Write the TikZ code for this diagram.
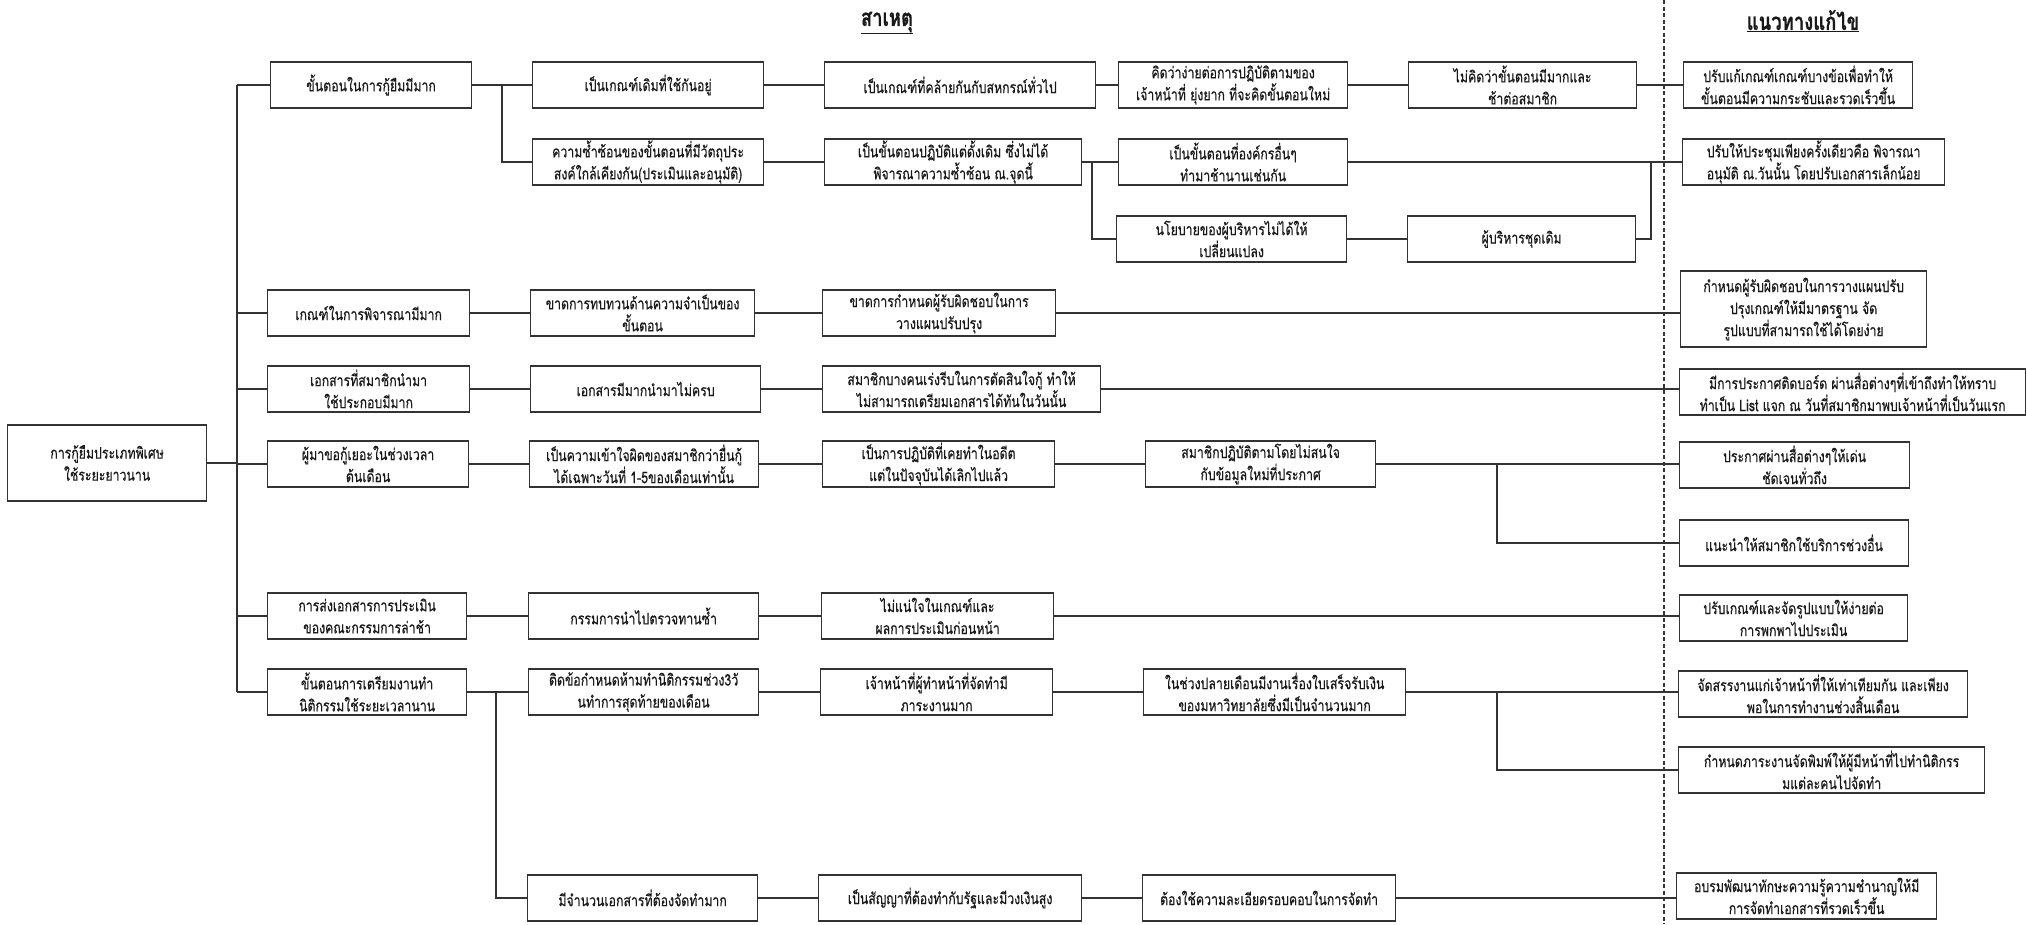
\documentclass[tikz,border=0pt]{standalone}
\usepackage{fontspec}
\setmainfont[Script=Thai, FakeStretch=0.77, FakeBold=0.4]{Loma}

\begin{document}
\begin{tikzpicture}[x=1pt, y=-1pt,
  every node/.style={font=\fontsize{16}{22}\selectfont, text=black!90},
  bx/.style={draw=black!80, line width=1.2pt, align=center, anchor=west, inner xsep=2pt, inner ysep=0pt, minimum height=46},
  tall/.style={minimum height=76},
  link/.style={draw=black!80, line width=1.2pt},
  hd/.style={font=\fontsize{24}{28}\selectfont\bfseries}]
\fill[white] (0,0) rectangle (2027,924);
\useasboundingbox (0,0) rectangle (2027,924);

% headings and the divider
\node[hd] (hcause) at (887,23) {\underline{สาเหตุ}};
\node[hd] (hfix) at (1803,21) {\underline{แนวทางแก้ไข}};
\draw[black!80, line width=1.5pt, dash pattern=on 4pt off 2.5pt] (1664,0) -- (1664,924);

% root
\node[bx, tall, minimum width=199] (root) at (7,463) {การกู้ยืมประเภทพิเศษ\\ใช้ระยะยาวนาน};

% first level
\node[bx, minimum width=201] (a1) at (270,85) {ขั้นตอนในการกู้ยืมมีมาก};
\node[bx, minimum width=202] (a4) at (267,313) {เกณฑ์ในการพิจารณามีมาก};
\node[bx, minimum width=202] (a5) at (267,389) {เอกสารที่สมาชิกนำมา\\ใช้ประกอบมีมาก};
\node[bx, minimum width=201] (a6) at (267,464) {ผู้มาขอกู้เยอะในช่วงเวลา\\ต้นเดือน};
\node[bx, minimum width=199] (a7) at (267,616) {การส่งเอกสารการประเมิน\\ของคณะกรรมการล่าช้า};
\node[bx, minimum width=199] (a8) at (267,692) {ขั้นตอนการเตรียมงานทำ\\นิติกรรมใช้ระยะเวลานาน};

% second level
\node[bx, minimum width=231] (b1) at (532,85) {เป็นเกณฑ์เดิมที่ใช้กันอยู่};
\node[bx, minimum width=231] (b2) at (532,162) {ความซ้ำซ้อนของขั้นตอนที่มีวัตถุประ\\สงค์ใกล้เคียงกัน(ประเมินและอนุมัติ)};
\node[bx, minimum width=224] (b4) at (530,313) {ขาดการทบทวนด้านความจำเป็นของ\\ขั้นตอน};
\node[bx, minimum width=230] (b5) at (530,389) {เอกสารมีมากนำมาไม่ครบ};
\node[bx, minimum width=229] (b6) at (529,464) {เป็นความเข้าใจผิดของสมาชิกว่ายื่นกู้\\ได้เฉพาะวันที่ 1-5ของเดือนเท่านั้น};
\node[bx, minimum width=230] (b7) at (528,616) {กรรมการนำไปตรวจทานซ้ำ};
\node[bx, minimum width=230] (b8) at (528,692) {ติดข้อกำหนดห้ามทำนิติกรรมช่วง3วั\\นทำการสุดท้ายของเดือน};
\node[bx, minimum width=230] (b9) at (527,898) {มีจำนวนเอกสารที่ต้องจัดทำมาก};

% third level
\node[bx, minimum width=271] (c1) at (824,85) {เป็นเกณฑ์ที่คล้ายกันกับสหกรณ์ทั่วไป};
\node[bx, minimum width=257] (c2) at (824,162) {เป็นขั้นตอนปฏิบัติแต่ดั้งเดิม ซึ่งไม่ได้\\พิจารณาความซ้ำซ้อน ณ.จุดนี้};
\node[bx, minimum width=233] (c4) at (822,313) {ขาดการกำหนดผู้รับผิดชอบในการ\\วางแผนปรับปรุง};
\node[bx, minimum width=278] (c5) at (822,389) {สมาชิกบางคนเร่งรีบในการตัดสินใจกู้ ทำให้\\ไม่สามารถเตรียมเอกสารได้ทันในวันนั้น};
\node[bx, minimum width=232] (c6) at (822,464) {เป็นการปฏิบัติที่เคยทำในอดีต\\แต่ในปัจจุบันได้เลิกไปแล้ว};
\node[bx, minimum width=232] (c7) at (821,616) {ไม่แน่ใจในเกณฑ์และ\\ผลการประเมินก่อนหน้า};
\node[bx, minimum width=232] (c8) at (820,692) {เจ้าหน้าที่ผู้ทำหน้าที่จัดทำมี\\ภาระงานมาก};
\node[bx, minimum width=263] (c9) at (818,898) {เป็นสัญญาที่ต้องทำกับรัฐและมีวงเงินสูง};

% fourth level
\node[bx, minimum width=229] (d1) at (1118,85) {คิดว่าง่ายต่อการปฏิบัติตามของ\\เจ้าหน้าที่ ยุ่งยาก ที่จะคิดขั้นตอนใหม่};
\node[bx, minimum width=229] (d2) at (1118,162) {เป็นขั้นตอนที่องค์กรอื่นๆ\\ทำมาช้านานเช่นกัน};
\node[bx, minimum width=230] (d3) at (1116,239) {นโยบายของผู้บริหารไม่ได้ให้\\เปลี่ยนแปลง};
\node[bx, minimum width=230] (d6) at (1145,464) {สมาชิกปฏิบัติตามโดยไม่สนใจ\\กับข้อมูลใหม่ที่ประกาศ};
\node[bx, minimum width=262] (d8) at (1143,692) {ในช่วงปลายเดือนมีงานเรื่องใบเสร็จรับเงิน\\ของมหาวิทยาลัยซึ่งมีเป็นจำนวนมาก};
\node[bx, minimum width=253] (d9) at (1142,898) {ต้องใช้ความละเอียดรอบคอบในการจัดทำ};

% fifth level
\node[bx, minimum width=228] (e1) at (1408,85) {ไม่คิดว่าขั้นตอนมีมากและ\\ช้าต่อสมาชิก};
\node[bx, minimum width=228] (e3) at (1407,239) {ผู้บริหารชุดเดิม};

% solutions
\node[bx, minimum width=229] (s1) at (1683,85) {ปรับแก้เกณฑ์เกณฑ์บางข้อเพื่อทำให้\\ขั้นตอนมีความกระชับและรวดเร็วขึ้น};
\node[bx, minimum width=262] (s2) at (1682,162) {ปรับให้ประชุมเพียงครั้งเดียวคือ พิจารณา\\อนุมัติ ณ.วันนั้น โดยปรับเอกสารเล็กน้อย};
\node[bx, tall, minimum width=246] (s4) at (1680,309) {กำหนดผู้รับผิดชอบในการวางแผนปรับ\\ปรุงเกณฑ์ให้มีมาตรฐาน จัด\\รูปแบบที่สามารถใช้ได้โดยง่าย};
\node[bx, minimum width=346] (s5) at (1679,392) {มีการประกาศติดบอร์ด ผ่านสื่อต่างๆที่เข้าถึงทำให้ทราบ\\ทำเป็น List แจก ณ วันที่สมาชิกมาพบเจ้าหน้าที่เป็นวันแรก};
\node[bx, minimum width=230] (s6) at (1679,465) {ประกาศผ่านสื่อต่างๆให้เด่น\\ชัดเจนทั่วถึง};
\node[bx, minimum width=229] (s6b) at (1679,543) {แนะนำให้สมาชิกใช้บริการช่วงอื่น};
\node[bx, minimum width=228] (s7) at (1679,618) {ปรับเกณฑ์และจัดรูปแบบให้ง่ายต่อ\\การพกพาไปประเมิน};
\node[bx, minimum width=289] (s8) at (1678,694) {จัดสรรงานแก่เจ้าหน้าที่ให้เท่าเทียมกัน และเพียง\\พอในการทำงานช่วงสิ้นเดือน};
\node[bx, minimum width=306] (s8b) at (1678,770) {กำหนดภาระงานจัดพิมพ์ให้ผู้มีหน้าที่ไปทำนิติกรร\\มแต่ละคนไปจัดทำ};
\node[bx, minimum width=260] (s9) at (1676,896) {อบรมพัฒนาทักษะความรู้ความชำนาญให้มี\\การจัดทำเอกสารที่รวดเร็วขึ้น};

% junction columns
\coordinate (tk) at (237,0);
\coordinate (j1) at (502,0);
\coordinate (j6) at (496,0);
\coordinate (j2) at (1092,0);
\coordinate (j4) at (1497,0);
\coordinate (j3) at (1651,0);

% trunk
\draw[link] (root.east) -- (tk |- root.east);
\draw[link] (tk |- a1.west) -- (tk |- a8.west);
\foreach \n in {a1,a4,a5,a6,a7,a8} \draw[link] (tk |- \n.west) -- (\n.west);

% straight runs
\foreach \p/\q in {a1/b1, b1/c1, c1/d1, d1/e1, e1/s1, b2/c2, c2/d2, d2/s2, d3/e3,
  a4/b4, b4/c4, c4/s4, a5/b5, b5/c5, c5/s5, a6/b6, b6/c6, c6/d6, d6/s6,
  a7/b7, b7/c7, c7/s7, a8/b8, b8/c8, c8/d8, d8/s8, b9/c9, c9/d9, d9/s9}
  \draw[link] (\p.east) -- (\q.west |- \p.east);

% branches
\draw[link] (j1 |- a1.east) |- (b2.west);
\draw[link] (j2 |- c2.east) |- (d3.west);
\draw[link] (e3.east) -| (j3 |- d2.east);
\draw[link] (j4 |- d6.east) |- (s6b.west);
\draw[link] (j4 |- d8.east) |- (s8b.west);
\draw[link] (j6 |- a8.east) |- (b9.west);
\end{tikzpicture}
\end{document}
